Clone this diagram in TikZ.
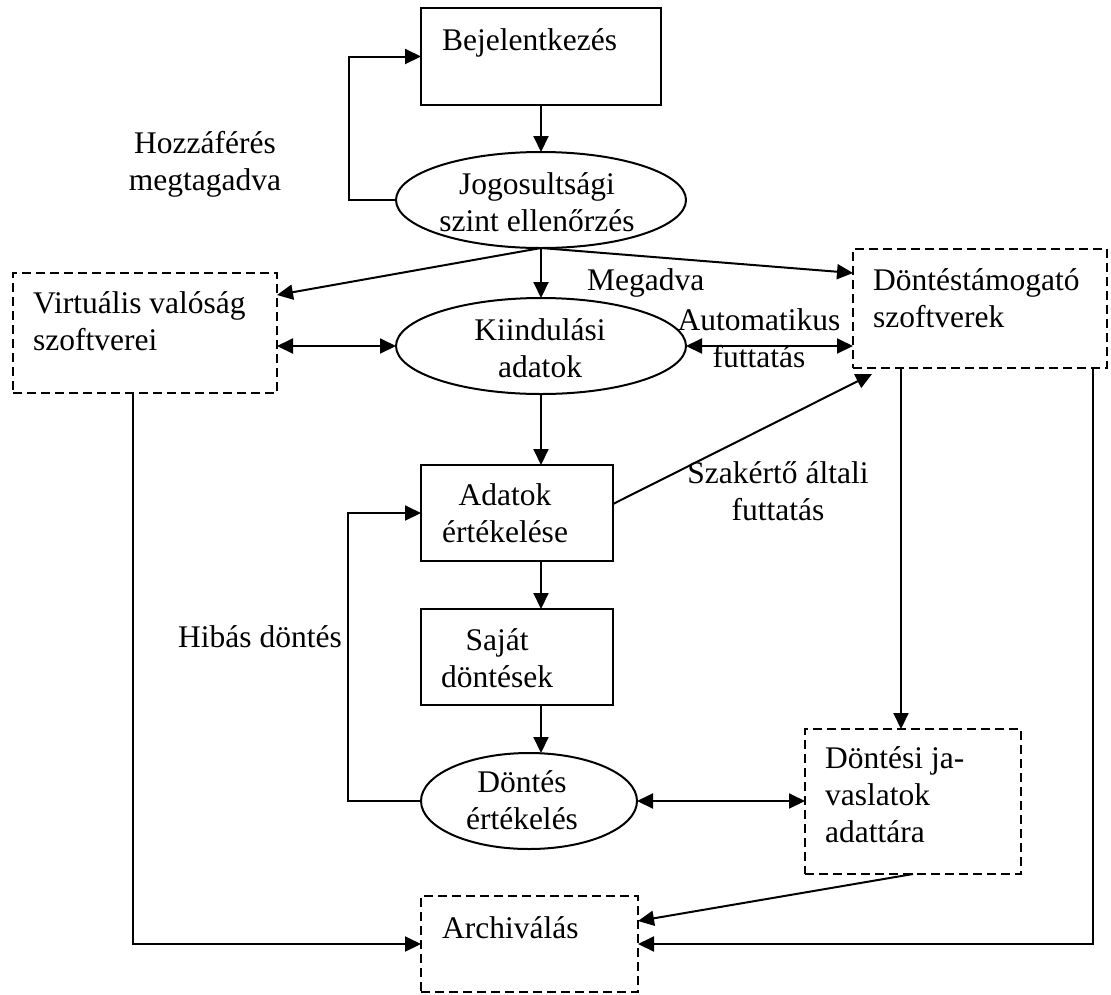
\documentclass[tikz,border=0pt]{standalone}
\usepackage{fontspec}
\setmainfont{Liberation Serif}
\usetikzlibrary{arrows.meta,shapes.geometric,calc}
\begin{document}
\begin{tikzpicture}[x=1pt,y=-1pt,
  lw/.style={line width=2pt},
  box/.style={draw, lw, rectangle, inner sep=0pt, outer sep=0pt},
  dbox/.style={box, dash pattern=on 9pt off 5pt},
  oval/.style={draw, lw, ellipse, inner sep=0pt, outer sep=0pt},
  lbl/.style={inner sep=0pt, font=\fontsize{31.5}{37}\selectfont},
  tip/.tip={Triangle[length=16pt,width=15pt]},
  arr/.style={lw, -tip},
  darr/.style={lw, tip-tip}
]
\useasboundingbox (0,0) rectangle (1111,994);

% shapes
\node[box,  minimum width=240pt, minimum height=97pt]  (bej)  at (541,56.5) {};
\node[oval, minimum width=290pt, minimum height=96pt]  (jog)  at (541,200) {};
\node[dbox, minimum width=264pt, minimum height=120pt] (virt) at (145,333) {};
\node[dbox, minimum width=254pt, minimum height=119pt] (dts)  at (980,308.5) {};
\node[oval, minimum width=290pt, minimum height=96pt]  (kii)  at (541,346) {};
\node[box,  minimum width=192pt, minimum height=96pt]  (ada)  at (517,513) {};
\node[box,  minimum width=192pt, minimum height=96pt]  (saj)  at (517,657) {};
\node[oval, minimum width=216pt, minimum height=96pt]  (dont) at (529,801) {};
\node[dbox, minimum width=216pt, minimum height=145pt] (djav) at (913,801.5) {};
\node[dbox, minimum width=217pt, minimum height=96pt]  (arch) at (529.5,944) {};

% texts
\node[lbl, anchor=base west] (bej-t) at (442,50) {Bejelentkezés};
\node[lbl, align=center] (jog-t) at (537,205.2) {\strut Jogosultsági\\\strut szint ellenőrzés};
\node[lbl, align=center] (kii-t) at (540,351.2) {\strut Kiindulási\\\strut adatok};
\node[lbl, align=left, anchor=west] (virt-t) at (33,324.2) {\strut Virtuális valóság\\\strut szoftverei};
\node[lbl, align=left, anchor=west] (dts-t) at (873,301.2) {\strut Döntéstámogató\\\strut szoftverek};
\node[lbl, align=center] (auto-t) at (759,341.2) {\strut Automatikus\\\strut futtatás};
\node[lbl, anchor=base west] (meg-t) at (587,290) {Megadva};
\node[lbl, align=center] (hoz-t) at (205,164.2) {\strut Hozzáférés\\\strut megtagadva};
\node[lbl, align=center] (ada-t) at (505,516.2) {\strut Adatok\\\strut értékelése};
\node[lbl, align=center] (saj-t) at (497,661.2) {\strut Saját\\\strut döntések};
\node[lbl, anchor=base east] (hib-t) at (342,647) {Hibás döntés};
\node[lbl, align=center] (szak-t) at (778,494.2) {\strut Szakértő általi\\\strut futtatás};
\node[lbl, align=center] (dont-t) at (522,803.2) {\strut Döntés\\\strut értékelés};
\node[lbl, align=left, anchor=west] (djav-t) at (825,798.1) {\strut Döntési ja-\\\strut vaslatok\\\strut adattára};
\node[lbl, anchor=base west] (arch-t) at (442,938) {Archiválás};

% guide columns for vertical connectors
\coordinate (ax) at (541,0);
\coordinate (cd) at (901,0);
\coordinate (cr) at (1093,0);
\coordinate (cl) at (133,0);

% connectors
\draw[arr] (bej.south) -- (jog.north);
\draw[arr] (jog.west) -- ++(-47,0) |- (bej.west);
\draw[arr] (jog.south) -- (kii.north);
\draw[arr] (jog.south) -- ($(virt.north east)+(0,22)$);
\draw[arr] (jog.south) -- ($(dts.north west)+(0,24)$);
\draw[darr] (kii.west -| virt.east) -- (kii.west);
\draw[darr] (kii.east) -- (kii.east -| dts.west);
\draw[arr] (kii.south) -- (ada.north -| kii.south);
\draw[arr] (ada.south -| ax) -- (saj.north -| ax);
\draw[arr] (saj.south -| ax) -- (ax |- dont.north);
\draw[arr] (dont.west) -- ++(-73,0) |- (ada.west);
\draw[darr] (dont.east) -- (dont.east -| djav.west);
\draw[arr] ($(ada.east)+(0,-9)$) -- ($(dts.south west)+(19,6)$);
\draw[arr] (dts.south -| cd) -- (djav.north -| cd);
\draw[arr] (dts.south -| cr) |- (arch.east);
\draw[arr] (virt.south -| cl) |- (arch.west);
\draw[arr] ($(djav.south west)+(108,0)$) -- ($(arch.north east)+(0,25)$);
\end{tikzpicture}
\end{document}
